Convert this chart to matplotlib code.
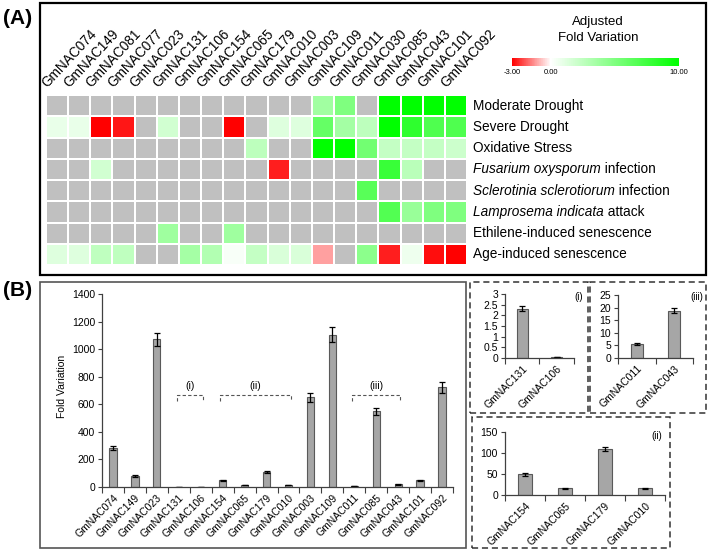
import numpy as np
import matplotlib
matplotlib.use('Agg')
import matplotlib.pyplot as plt
from matplotlib.colors import LinearSegmentedColormap, Normalize
from matplotlib.cm import ScalarMappable
from matplotlib.patches import Rectangle

plt.rcParams['font.family'] = ['Liberation Sans', 'DejaVu Sans']

nan = np.nan

# ---- panel A data ----
hm_genes = ['GmNAC074', 'GmNAC149', 'GmNAC081', 'GmNAC077', 'GmNAC023', 'GmNAC131',
            'GmNAC106', 'GmNAC154', 'GmNAC065', 'GmNAC179', 'GmNAC010', 'GmNAC003',
            'GmNAC109', 'GmNAC011', 'GmNAC030', 'GmNAC085', 'GmNAC043', 'GmNAC101',
            'GmNAC092']
# (italic part, normal part)
conditions = [('', 'Moderate Drought'),
              ('', 'Severe Drought'),
              ('', 'Oxidative Stress'),
              ('Fusarium oxysporum', ' infection'),
              ('Sclerotinia sclerotiorum', ' infection'),
              ('Lamprosema indicata', ' attack'),
              ('', 'Ethilene-induced senescence'),
              ('', 'Age-induced senescence')]

moderate_drought = [nan]*12 + [3.7, 5.0, nan, 10, 10, 10, 10]
severe_drought = [0.9, 0.9, -3.0, -2.7, nan, 1.8, nan, nan, -3.0, nan, 1.3, 1.3,
                  6.0, 3.6, 2.6, 10, 8.2, 6.9, 6.9]
oxidative = [nan]*9 + [2.6, nan, nan, 10, 10, 5.5, 2.3, 2.3, 2.3, 2.0]
fusarium = [nan, nan, 1.8] + [nan]*7 + [-2.6] + [nan]*4 + [7.8, 2.7, nan, nan]
sclerotinia = [nan]*14 + [6.5] + [nan]*4
lamprosema = [nan]*15 + [6.8, 4.0, 5.0, 5.0]
ethilene = [nan]*5 + [3.8] + [nan]*2 + [3.8] + [nan]*10
age = [1.3, 1.3, 2.5, 2.5, nan, nan, 3.5, 3.0, 0.3, 2.3, 1.5, 1.5, -1.1, nan,
       4.5, -2.6, 0.7, -2.8, -3.0]

cbar_ticks = [-3, 0, 10]

# ---- panel B data ----
main_genes = ['GmNAC074', 'GmNAC149', 'GmNAC023', 'GmNAC131', 'GmNAC106', 'GmNAC154',
              'GmNAC065', 'GmNAC179', 'GmNAC010', 'GmNAC003', 'GmNAC109', 'GmNAC011',
              'GmNAC085', 'GmNAC043', 'GmNAC101', 'GmNAC092']
main_vals = [280, 80, 1070, 2.3, 0.03, 48, 15, 108, 15, 650, 1105, 5.5, 548, 18.5, 50, 722]
main_err = [15, 4, 50, 0.12, 0.01, 3, 1, 6, 1, 30, 55, 0.5, 25, 1, 4, 38]
groups = [('(i)', 3, 4), ('(ii)', 5, 8), ('(iii)', 11, 13)]

i_genes = ['GmNAC131', 'GmNAC106']
i_vals = [2.32, 0.03]
i_err = [0.12, 0.005]

iii_genes = ['GmNAC011', 'GmNAC043']
iii_vals = [5.5, 18.7]
iii_err = [0.4, 1.0]

ii_genes = ['GmNAC154', 'GmNAC065', 'GmNAC179', 'GmNAC010']
ii_vals = [49, 16, 109, 16]
ii_err = [3, 1, 5, 1]

W, H = 708, 553
fig = plt.figure(figsize=(W/100, H/100), dpi=100)


def px_axes(x0, y0, x1, y1):
    return fig.add_axes([x0/W, 1 - y1/H, (x1 - x0)/W, (y1 - y0)/H])


def px_text(x, y, s, **kw):
    return fig.text(x/W, 1 - y/H, s, **kw)


def px_box(x0, y0, x1, y1, **kw):
    r = Rectangle((x0/W, 1 - y1/H), (x1 - x0)/W, (y1 - y0)/H,
                  transform=fig.transFigure, fill=False, **kw)
    fig.add_artist(r)


# ================= panel A =================
px_box(40, 3, 706, 275, edgecolor='black', linewidth=1.6)
px_text(18, 18, '(A)', fontsize=15, fontweight='bold', ha='center', va='center')

data = np.ma.masked_invalid(np.array([moderate_drought, severe_drought, oxidative,
                                      fusarium, sclerotinia, lamprosema, ethilene, age]))
cmap = LinearSegmentedColormap.from_list(
    'rwg', [(0, '#ff0000'), (3/13, '#ffffff'), (1, '#00ff00')])
cmap.set_bad('#c0c0c0')
norm = Normalize(-3, 10)

ax = px_axes(46, 95, 467, 265)
ax.pcolormesh(data, cmap=cmap, norm=norm, edgecolors='white', linewidth=1.4)
ax.set_xlim(0, len(hm_genes))
ax.set_ylim(len(conditions), 0)
ax.axis('off')

for j, g in enumerate(hm_genes):
    ax.text(j + 0.15, -0.25, g, rotation=47, ha='left', va='bottom',
            rotation_mode='anchor', fontsize=9.8)

for i, (ital, rest) in enumerate(conditions):
    if ital:
        t = ax.text(19.27, i + 0.5, ital, style='italic', ha='left', va='center',
                    fontsize=9.8)
        ax.annotate(rest, xy=(1, 0), xycoords=t, ha='left', va='bottom', fontsize=9.8)
    else:
        ax.text(19.27, i + 0.5, rest, ha='left', va='center', fontsize=9.8)

# colour scale
cax = px_axes(512, 58, 679, 66)
cb = fig.colorbar(ScalarMappable(norm=norm, cmap=cmap), cax=cax,
                  orientation='horizontal', ticks=cbar_ticks, format='%.2f')
cb.outline.set_visible(False)
cax.tick_params(length=0, labelsize=5.5, pad=2)
px_text(598, 22, 'Adjusted', fontsize=9.5, ha='center', va='center')
px_text(598, 38, 'Fold Variation', fontsize=9.5, ha='center', va='center')

# ================= panel B =================
px_box(40, 282, 466, 548, edgecolor='#555555', linewidth=1.2)
px_text(18, 290, '(B)', fontsize=15, fontweight='bold', ha='center', va='center')

bar_kw = dict(width=0.33, color='#a6a6a6', edgecolor='#595959', linewidth=0.8)
err_kw = dict(fmt='none', ecolor='black', elinewidth=0.9, capsize=2.5, capthick=0.9)


def style_axes(ax, labels, ytick_size=7.5):
    n = len(labels)
    for s in ['top', 'right']:
        ax.spines[s].set_visible(False)
    for s in ['left', 'bottom']:
        ax.spines[s].set_color('#404040')
        ax.spines[s].set_linewidth(0.9)
    ax.set_xlim(-0.5, n - 0.5)
    ax.set_xticks(np.arange(-0.5, n, 1))
    ax.set_xticklabels([])
    ax.set_xticks(np.arange(n), minor=True)
    ax.set_xticklabels(labels, minor=True, rotation=45, ha='right',
                       rotation_mode='anchor', fontsize=7.5)
    ax.tick_params(axis='x', which='major', length=4, direction='out', color='#404040')
    ax.tick_params(axis='x', which='minor', length=0, pad=4)
    ax.tick_params(axis='y', length=3, direction='out', labelsize=ytick_size,
                   color='#404040', pad=2)


axm = px_axes(102, 294, 453, 487)
x = np.arange(len(main_genes))
axm.bar(x, main_vals, **bar_kw)
axm.errorbar(x, main_vals, yerr=main_err, **err_kw)
axm.set_ylim(0, 1400)
axm.set_yticks(np.arange(0, 1401, 200))
style_axes(axm, main_genes)
px_text(62, 386, 'Fold Variation', rotation=90, fontsize=7.5, ha='center', va='center')

for lab, a, b in groups:
    x0, x1 = a - 0.1, b + 0.1
    axm.plot([x0, x0, x1, x1], [625, 668, 668, 625], color='#555555',
             linestyle=(0, (3, 2)), linewidth=0.8)
    axm.text((x0 + x1)/2, 700, lab, ha='center', va='bottom', fontsize=7.5)

# inset (i)
px_box(470, 282, 588, 413, edgecolor='#333333', linewidth=1.1, linestyle=(0, (4, 2.5)))
ax1 = px_axes(505, 294, 574, 358)
ax1.bar(np.arange(2), i_vals, **bar_kw)
ax1.errorbar(np.arange(2), i_vals, yerr=i_err, **err_kw)
ax1.set_ylim(0, 3)
ax1.set_yticks(np.arange(0, 3.01, 0.5))
ax1.set_yticklabels(['0', '0.5', '1', '1.5', '2', '2.5', '3'])
style_axes(ax1, i_genes)
px_text(579, 297, '(i)', fontsize=7, ha='center', va='center')

# inset (iii)
px_box(590, 282, 706, 413, edgecolor='#333333', linewidth=1.1, linestyle=(0, (4, 2.5)))
ax3 = px_axes(618, 295, 693, 358)
ax3.bar(np.arange(2), iii_vals, **bar_kw)
ax3.errorbar(np.arange(2), iii_vals, yerr=iii_err, **err_kw)
ax3.set_ylim(0, 25)
ax3.set_yticks(np.arange(0, 26, 5))
style_axes(ax3, iii_genes)
px_text(697, 297, '(iii)', fontsize=7, ha='center', va='center')

# inset (ii)
px_box(472, 417, 670, 548, edgecolor='#333333', linewidth=1.1, linestyle=(0, (4, 2.5)))
ax2 = px_axes(505, 432, 665, 495)
ax2.bar(np.arange(4), ii_vals, **bar_kw)
ax2.errorbar(np.arange(4), ii_vals, yerr=ii_err, **err_kw)
ax2.set_ylim(0, 150)
ax2.set_yticks(np.arange(0, 151, 50))
style_axes(ax2, ii_genes)
px_text(657, 436, '(ii)', fontsize=7, ha='center', va='center')

fig.savefig('out.png', dpi=100)
